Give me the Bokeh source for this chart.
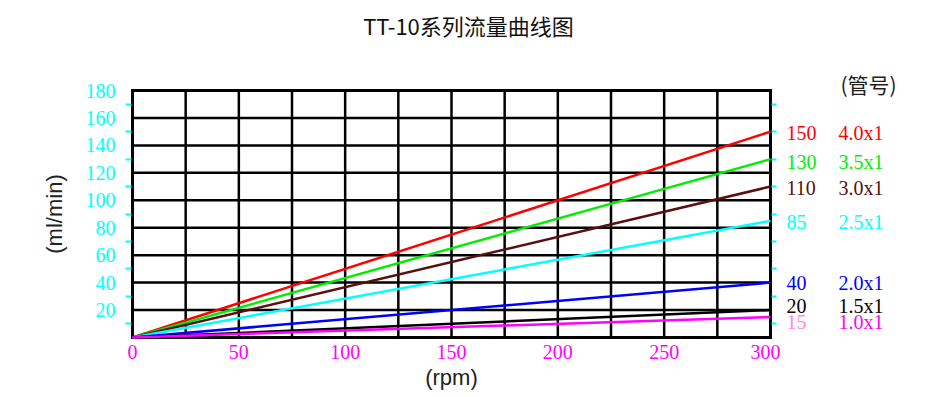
from math import pi
from bokeh.plotting import figure
from bokeh.layouts import row
from bokeh.models import Range1d, FixedTicker, LinearAxis, ColumnDataSource
from bokeh.core.properties import value, field
from bokeh.embed import file_html
from bokeh.resources import INLINE

# ---- data ----
rpm_range = [0, 300]
flows_at_300 = [150, 130, 110, 85, 40, 20, 15]          # ml/min at 300 rpm
tube_sizes = ["4.0x1", "3.5x1", "3.0x1", "2.5x1", "2.0x1", "1.5x1", "1.0x1"]
line_colors = ["#ff0000", "#00ee00", "#5a0f0f", "#00ffff", "#0000ff", "#000000", "#ff00ff"]
value_label_colors = ["#ff0000", "#00ee00", "#5a0f0f", "#00ffff", "#0000ff", "#000000", "#ff88e0"]
label_y = [149, 128, 109, 84, 39.5, 23, 11]             # label positions (ml/min)
y_labels = [20, 40, 60, 80, 100, 120, 140, 160, 180]
y_minor = [10, 30, 50, 70, 90, 110, 130, 150, 170]
y_grid = [0, 20, 40, 60, 80, 100, 120, 140, 160, 180]
x_labels = [0, 50, 100, 150, 200, 250, 300]
x_grid = [0, 25, 50, 75, 100, 125, 150, 175, 200, 225, 250, 275, 300]
title_text = "TT-10系列流量曲线图"
header_text = "(管号)"
y_title = "(ml/min)"
x_title = "(rpm)"

NUM_FONT = "Liberation Serif"
CJK_FONT = "Noto Sans CJK SC"
TXT_FONT = "Liberation Sans"

X_MAX, Y_MAX = 300, 180
H = 397
# chart box in page pixels
BOX_L, BOX_R, BOX_T, BOX_B = 132, 770, 90, 337
PAD = 3            # frame extends PAD px beyond the box so box edges are not clipped
FRAME_TOP = 8      # frame extended upwards so the title / header fit inside
sx = (BOX_R - BOX_L) / X_MAX
sy = (BOX_B - BOX_T) / Y_MAX

x_rng = Range1d(-PAD / sx, X_MAX + PAD / sx)
y_rng = Range1d(-PAD / sy, Y_MAX + (BOX_T - FRAME_TOP) / sy)
border_top = FRAME_TOP
border_bottom = H - (BOX_B + PAD)

W0 = 70
W1 = 710
W2 = 935 - W0 - W1


def blank(fig):
    fig.background_fill_color = "white"
    fig.border_fill_color = "white"
    fig.outline_line_color = None
    for g in fig.grid:
        g.visible = False


# ---- left panel: y-axis title ----
p0 = figure(width=W0, height=H, x_range=Range1d(0, 1), y_range=y_rng,
            output_backend="svg", toolbar_location=None,
            x_axis_location=None, y_axis_location=None,
            min_border_left=0, min_border_right=0,
            min_border_top=border_top, min_border_bottom=border_bottom)
blank(p0)
p0.text(x=[0], y=[Y_MAX / 2], text=[y_title], x_offset=54, angle=pi / 2,
        text_color="#222222", text_font=value(TXT_FONT), text_font_size="22px",
        text_align="center", text_baseline="middle")

# ---- main chart ----
p = figure(width=W1, height=H, x_range=x_rng, y_range=y_rng,
           output_backend="svg", toolbar_location=None,
           min_border_left=BOX_L - PAD - W0, min_border_right=W1 - (BOX_R + PAD - W0),
           min_border_top=border_top, min_border_bottom=border_bottom)
p.background_fill_color = "white"
p.border_fill_color = "white"
p.outline_line_color = None
for g in p.grid:
    g.visible = False

# grid lines limited to the chart box (outermost lines form the box)
inner_x = x_grid[1:-1]
inner_y = y_grid[1:-1]
p.segment(x0=inner_x, y0=[0] * len(inner_x), x1=inner_x, y1=[Y_MAX] * len(inner_x),
          line_color="black", line_width=2.5, level="underlay")
p.segment(x0=[0] * len(inner_y), y0=inner_y, x1=[X_MAX] * len(inner_y), y1=inner_y,
          line_color="black", line_width=2.5, level="underlay")
edge_x = [x_grid[0], x_grid[-1]]
edge_y = [y_grid[0], y_grid[-1]]
p.segment(x0=edge_x, y0=[0, 0], x1=edge_x, y1=[Y_MAX, Y_MAX],
          line_color="black", line_width=3, line_cap="square", level="underlay")
p.segment(x0=[0, 0], y0=edge_y, x1=[X_MAX, X_MAX], y1=edge_y,
          line_color="black", line_width=3, line_cap="square", level="underlay")

# left axis
ya = p.yaxis[0]
ya.ticker = FixedTicker(ticks=y_labels, minor_ticks=y_minor)
ya.axis_line_color = None
ya.major_tick_line_color = None
ya.major_tick_out = 0
ya.major_tick_in = 0
ya.minor_tick_line_color = "#00ffff"
ya.minor_tick_line_width = 2
ya.minor_tick_out = 4
ya.minor_tick_in = 2
ya.major_label_text_color = "#00ffff"
ya.major_label_text_font = NUM_FONT
ya.major_label_text_font_size = "20px"
ya.major_label_standoff = 10

# right axis (ticks only)
ra = LinearAxis(ticker=FixedTicker(ticks=y_labels, minor_ticks=y_minor))
ra.axis_line_color = None
ra.major_tick_line_color = None
ra.major_tick_out = 0
ra.major_tick_in = 0
ra.minor_tick_line_color = "#00ffff"
ra.minor_tick_line_width = 2
ra.minor_tick_out = 3
ra.minor_tick_in = 2
ra.major_label_text_font_size = "0px"
ra.major_label_standoff = 0
ra.major_label_text_color = None
p.add_layout(ra, "right")

# bottom axis
xa = p.xaxis[0]
xa.ticker = FixedTicker(ticks=x_labels)
xa.axis_line_color = None
xa.major_tick_line_color = None
xa.major_tick_out = 0
xa.major_tick_in = 0
xa.minor_tick_line_color = None
xa.major_label_text_color = "#ff00ff"
xa.major_label_text_font = NUM_FONT
xa.major_label_text_font_size = "20px"
xa.major_label_standoff = 4
xa.axis_label = x_title
xa.axis_label_text_font = TXT_FONT
xa.axis_label_text_font_size = "22px"
xa.axis_label_text_font_style = "normal"
xa.axis_label_text_color = "#222222"
xa.axis_label_standoff = 3

# series lines
for v, c in zip(flows_at_300, line_colors):
    p.line(rpm_range, [0, v], line_color=c, line_width=2.5)

# title (inside the extended frame, above the box)
p.text(x=[X_MAX / 2], y=[Y_MAX], text=[title_text], x_offset=17, y_offset=-66,
       text_color="#111111", text_font=value(CJK_FONT), text_font_size="22px",
       text_align="center", text_baseline="middle")

# ---- right-hand label panel ----
p2 = figure(width=W2, height=H, x_range=Range1d(0, 1), y_range=y_rng,
            output_backend="svg", toolbar_location=None,
            x_axis_location=None, y_axis_location=None,
            min_border_left=0, min_border_right=0,
            min_border_top=border_top, min_border_bottom=border_bottom)
blank(p2)

src = ColumnDataSource(dict(x=[0] * len(flows_at_300), y=label_y,
                            val=[str(v) for v in flows_at_300], tube=tube_sizes,
                            vcol=value_label_colors, tcol=line_colors))
p2.text(x="x", y="y", text="val", source=src, x_offset=6,
        text_color=field("vcol"), text_font=value(NUM_FONT),
        text_font_size="20px", text_baseline="middle", text_align="left")
p2.text(x="x", y="y", text="tube", source=src, x_offset=58,
        text_color=field("tcol"), text_font=value(NUM_FONT),
        text_font_size="20px", text_baseline="middle", text_align="left")
p2.text(x=[0], y=[Y_MAX], text=[header_text], x_offset=60, y_offset=-7,
        text_color="#222222", text_font=value(CJK_FONT),
        text_font_size="21px", text_baseline="middle", text_align="left")

layout = row(p0, p, p2)
open("out.html", "w").write(file_html(layout, INLINE))
